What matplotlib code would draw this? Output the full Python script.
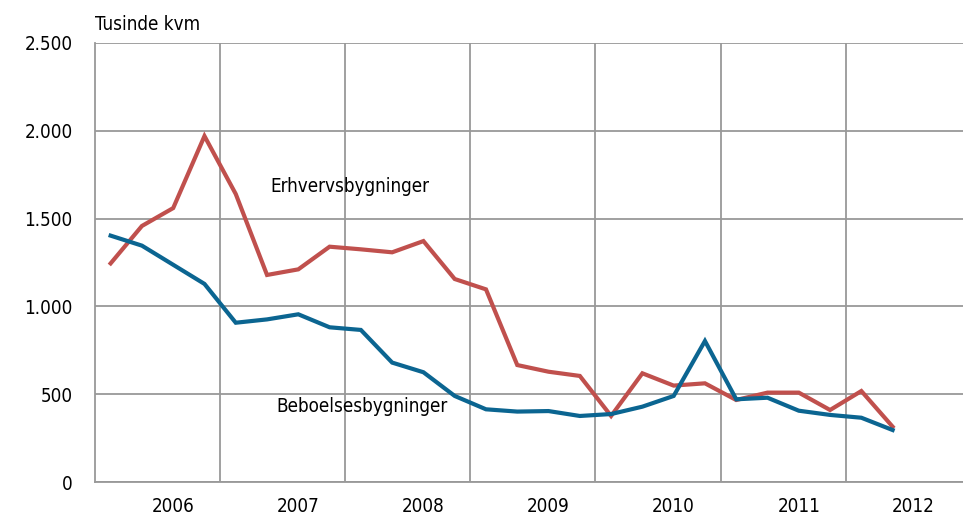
import matplotlib
matplotlib.use("Agg")
import matplotlib.pyplot as plt
from matplotlib.ticker import FuncFormatter

plt.rcParams["font.family"] = ["DejaVu Sans"]
plt.rcParams["font.stretch"] = "condensed"

# kvartaler 2006K1 - 2012K2
kvartaler = list(range(26))

erhverv = [1245, 1458, 1560, 1970, 1640, 1179, 1211, 1340, 1325, 1308,
           1372, 1156, 1097, 666, 628, 604, 376, 619, 549, 562,
           467, 509, 509, 410, 518, 315]
beboelse = [1403, 1346, 1237, 1128, 907, 926, 955, 881, 866, 680,
            625, 490, 414, 401, 404, 376, 387, 429, 490, 803,
            471, 480, 406, 382, 366, 296]

aar = ["2006", "2007", "2008", "2009", "2010", "2011", "2012"]
aar_pos = [2, 6, 10, 14, 18, 22, 25.65]
aar_graense = [3.5, 7.5, 11.5, 15.5, 19.5, 23.5]

RED = "#C0504D"
BLUE = "#0B6591"
GRID = "#999999"
FS = 13.5

fig = plt.figure(figsize=(9.63, 5.15), dpi=100)
ax = fig.add_axes([95/963, 33/515, 1 - 95/963, 439/515])

ax.plot(kvartaler, erhverv, color=RED, lw=3.0, solid_joinstyle="miter", zorder=3)
ax.plot(kvartaler, beboelse, color=BLUE, lw=3.0, solid_joinstyle="miter", zorder=3)

ax.set_xlim(-0.5, 27.25)
ax.set_ylim(0, 2500)
ax.set_yticks([0, 500, 1000, 1500, 2000, 2500])
ax.yaxis.set_major_formatter(FuncFormatter(lambda v, p: f"{int(v):,}".replace(",", ".")))
ax.set_xticks(aar_pos)
ax.set_xticklabels(aar)

for xg in aar_graense:
    ax.axvline(xg, color=GRID, lw=1.3, zorder=1)
ax.grid(axis="y", color=GRID, lw=1.3, zorder=1)
ax.set_axisbelow(True)

for s in ["top", "right"]:
    ax.spines[s].set_visible(False)
for s in ["left", "bottom"]:
    ax.spines[s].set_color(GRID)
    ax.spines[s].set_linewidth(1.3)

ax.tick_params(axis="both", length=0, labelsize=FS, colors="black")
ax.tick_params(axis="y", pad=16)
ax.tick_params(axis="x", pad=11)

fig.text(95/963, 1 - 25/515, "Tusinde kvm", fontsize=FS, va="center", ha="left")
ax.text(5.1, 1680, "Erhvervsbygninger", fontsize=FS, va="center", ha="left")
ax.text(5.3, 430, "Beboelsesbygninger", fontsize=FS, va="center", ha="left")

fig.savefig("out.png", dpi=100)
